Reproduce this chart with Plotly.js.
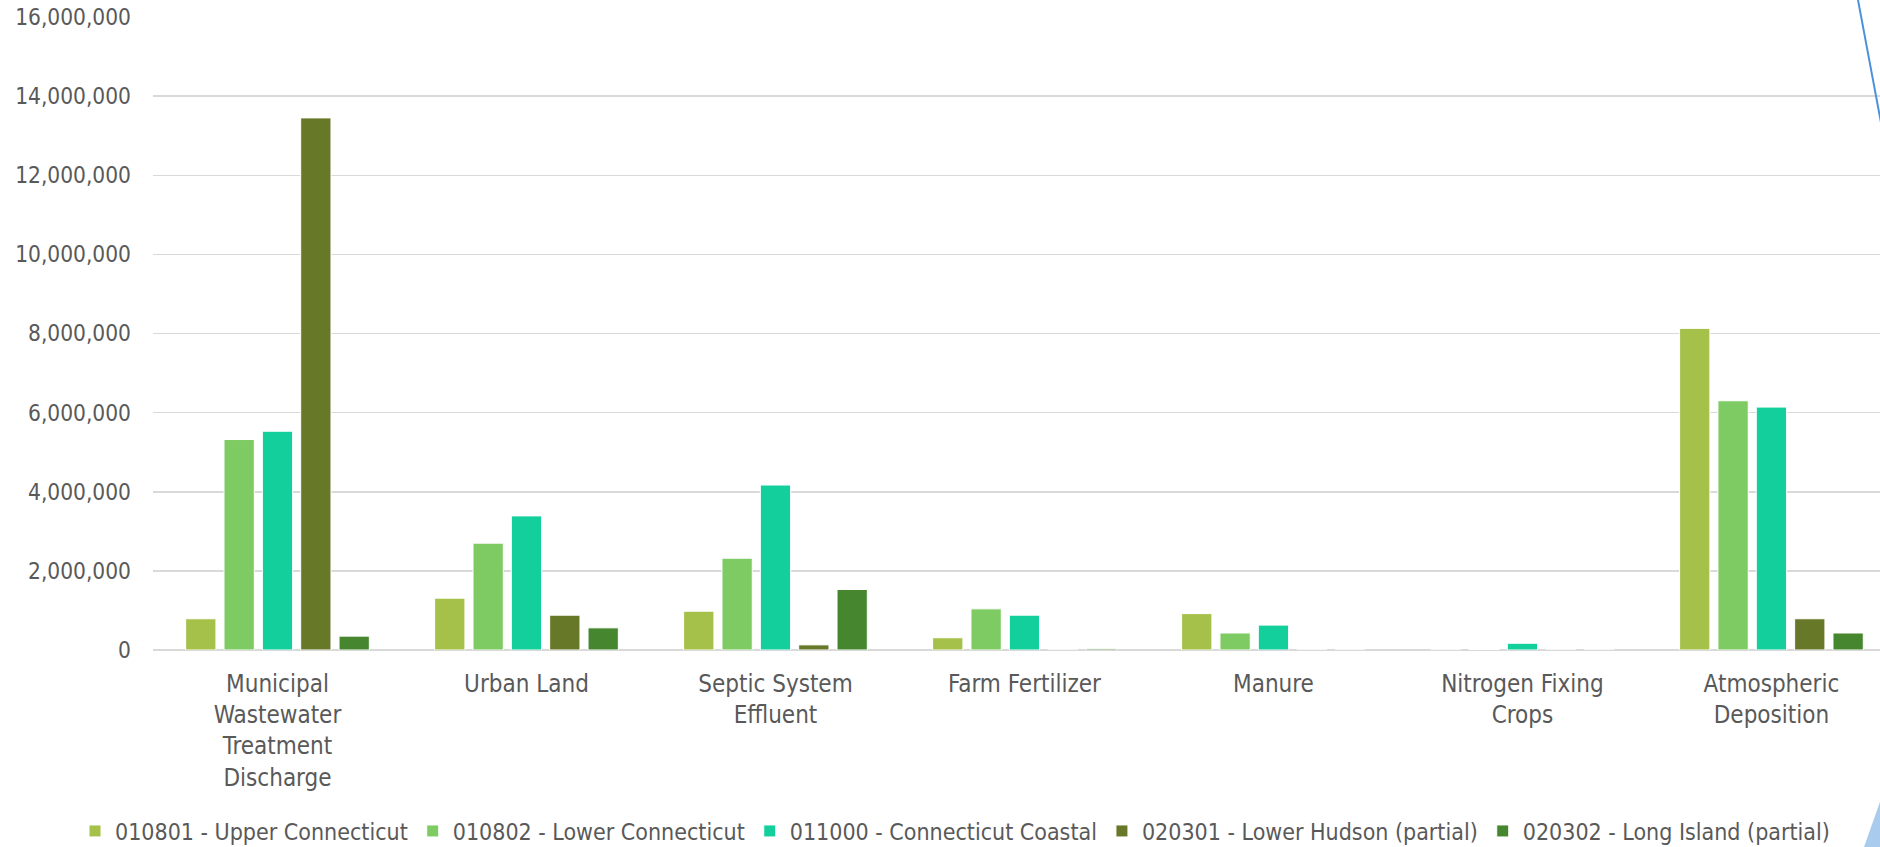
<!DOCTYPE html>
<html>
<head>
<meta charset="utf-8">
<script src="https://cdn.plot.ly/plotly-3.0.1.min.js"></script>
<style>
  html, body { margin: 0; padding: 0; background: #ffffff; overflow: hidden; }
  #chart { width: 1880px; height: 847px; }
</style>
</head>
<body>
<div id="chart"></div>
<script>
// Nitrogen load sources by watershed (lbs per year)
const categories = [
  "Municipal<br>Wastewater<br>Treatment<br>Discharge",
  "Urban Land",
  "Septic System<br>Effluent",
  "Farm Fertilizer",
  "Manure",
  "Nitrogen Fixing<br>Crops",
  "Atmospheric<br>Deposition"
];

const seriesNames = [
  "010801 - Upper Connecticut",
  "010802 - Lower Connecticut",
  "011000 - Connecticut Coastal",
  "020301 - Lower Hudson (partial)",
  "020302 - Long Island (partial)"
];

const upperConnecticut   = [790000, 1310000,  980000,  310000, 920000,   4000, 8130000];
const lowerConnecticut   = [5320000, 2700000, 2320000, 1040000, 430000,  12000, 6300000];
const connecticutCoastal = [5530000, 3390000, 4170000,  880000, 630000, 170000, 6140000];
const lowerHudson        = [13450000, 880000,  130000,       0,      0,      0,  790000];
const longIsland         = [350000,  560000, 1530000,   30000,      0,      0,  430000];

const seriesValues = [upperConnecticut, lowerConnecticut, connecticutCoastal, lowerHudson, longIsland];
const seriesColors = ["#A6C14A", "#7ECB63", "#12CF9B", "#677828", "#45862F"];

const labelFont = "'Liberation Sans Narrow', 'DejaVu Sans Condensed', 'Arial Narrow', sans-serif";
const textColor = "#595959";

const traces = seriesValues.map((vals, i) => ({
  type: "bar",
  name: seriesNames[i],
  x: categories,
  y: vals,
  marker: { color: seriesColors[i], line: { color: "#ffffff", width: 1 } },
  hoverinfo: "x+y+name"
}));

// plot area in pixels, used for placing the legend and corner decorations
const W = 1880, H = 847;
const plotLeft = 153, plotRight = 1880, plotTop = 17, plotBottom = 650;
const px = X => (X - plotLeft) / (plotRight - plotLeft);
const py = Y => (plotBottom - Y) / (plotBottom - plotTop);

const layout = {
  width: W,
  height: H,
  margin: { l: plotLeft, r: W - plotRight, t: plotTop, b: H - plotBottom, autoexpand: false },
  paper_bgcolor: "#ffffff",
  plot_bgcolor: "#ffffff",
  barmode: "group",
  bargap: 0.23,
  bargroupgap: 0.21,
  font: { family: labelFont, color: textColor, size: 22 },
  xaxis: {
    type: "category",
    range: [-0.5, 6.436],
    showgrid: false,
    showline: false,
    zeroline: false,
    ticks: "",
    ticklabelstandoff: 17,
    automargin: false,
    tickfont: { family: labelFont, size: 24, color: textColor }
  },
  yaxis: {
    range: [0, 16000000],
    dtick: 2000000,
    tickformat: ",d",
    showgrid: true,
    gridcolor: "#D9D9D9",
    gridwidth: 1.5,
    zeroline: true,
    zerolinecolor: "#D9D9D9",
    zerolinewidth: 1.5,
    showline: false,
    ticks: "",
    ticklabelstandoff: 21,
    automargin: false,
    tickfont: { family: "'DejaVu Sans Condensed', 'DejaVu Sans', sans-serif", size: 22.5, color: textColor }
  },
  showlegend: true,
  legend: {
    orientation: "h",
    x: px(75),
    xanchor: "left",
    y: py(831),
    yanchor: "middle",
    bgcolor: "rgba(0,0,0,0)",
    font: { family: labelFont, size: 23, color: textColor },
    itemwidth: 30,
    traceorder: "normal"
  },
  shapes: [
    {
      type: "line", xref: "paper", yref: "paper",
      x0: px(1858), y0: py(0), x1: px(1882), y1: py(128),
      line: { color: "#4A90DB", width: 2 }
    },
    {
      type: "path", xref: "paper", yref: "paper",
      path: "M " + px(1864) + "," + py(847) + " L " + px(1882) + "," + py(796) + " L " + px(1882) + "," + py(847) + " Z",
      fillcolor: "#A9CBEE",
      line: { width: 0 }
    }
  ]
};

Plotly.newPlot("chart", traces, layout, { displayModeBar: false, staticPlot: true });
</script>
</body>
</html>
